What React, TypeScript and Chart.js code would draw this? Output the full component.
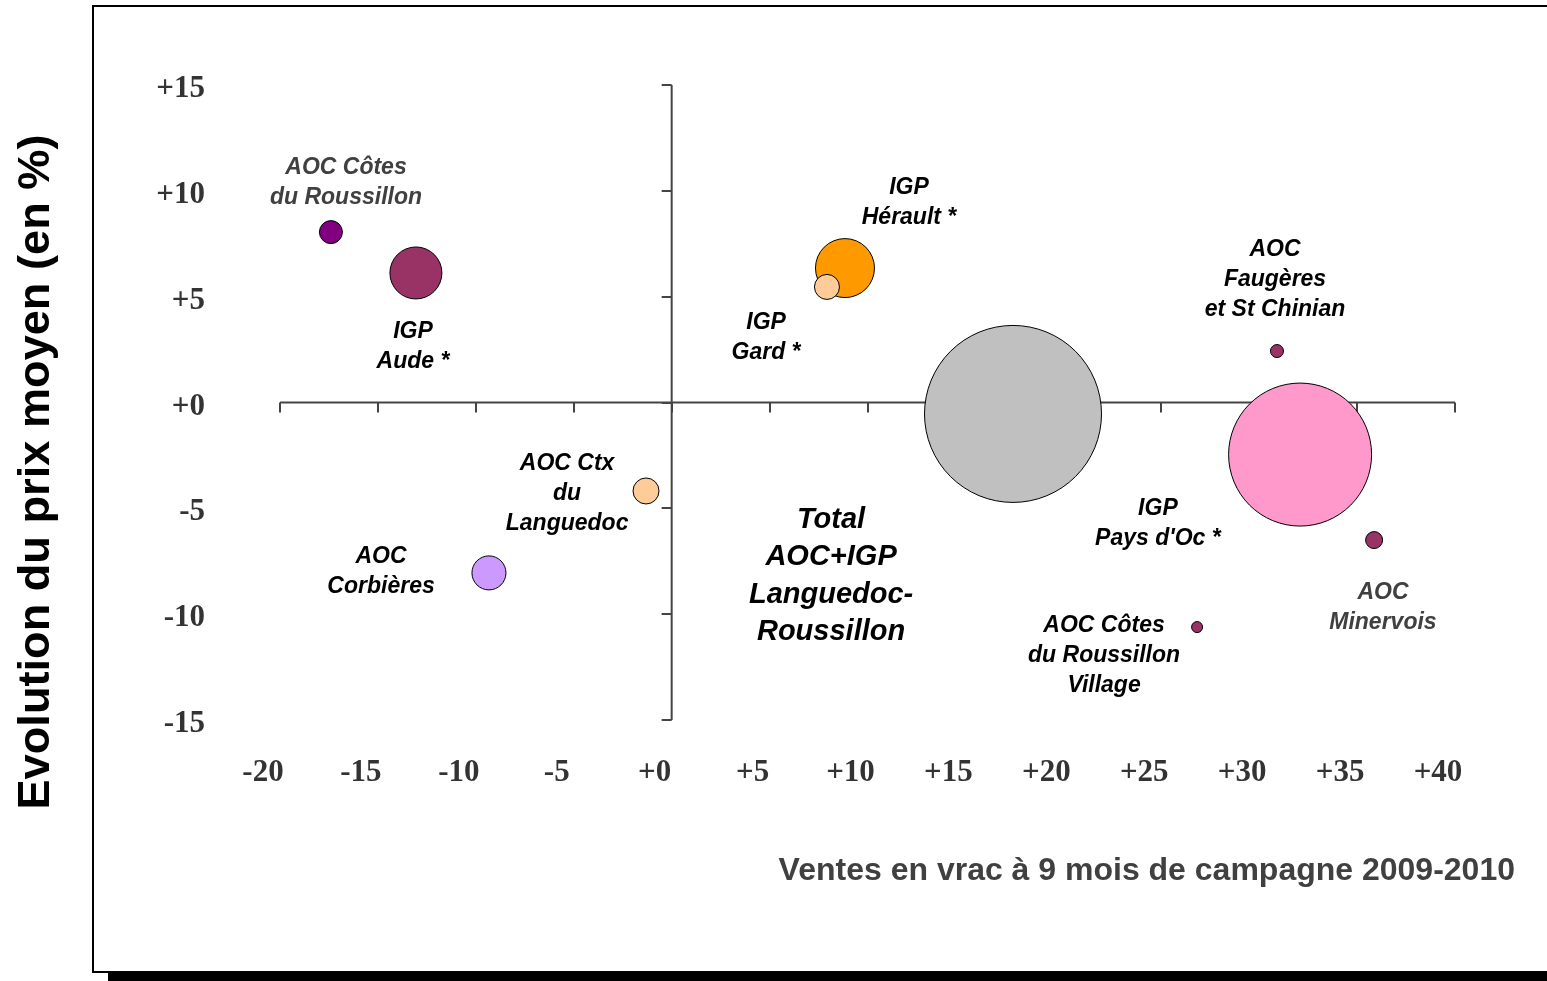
import React, { useEffect, useRef } from 'react';
import { Chart, registerables } from 'chart.js';

Chart.register(...registerables);

// ---- Data ----
const names = [
  'AOC Côtes du Roussillon',
  'IGP Aude',
  'IGP Hérault',
  'IGP Gard',
  'AOC Ctx du Languedoc',
  'AOC Corbières',
  'Total AOC+IGP Languedoc-Roussillon',
  'AOC Faugères et St Chinian',
  "IGP Pays d'Oc",
  'AOC Minervois',
  'AOC Côtes du Roussillon Village',
];
const salesChange = [-17.4, -13.06, 8.85, 7.93, -1.31, -9.33, 17.43, 30.91, 32.09, 35.87, 26.83];
const priceChange = [8.05, 6.12, 6.35, 5.46, -4.18, -8.05, -0.54, 2.43, -2.46, -6.5, -10.61];
const bubbleSize = [11.5, 26, 29.5, 12.5, 13, 17, 88.5, 6.5, 71.5, 8.5, 5.5];
const colors = ['#800080', '#993366', '#FF9900', '#FFCC99', '#FFCC99', '#CC99FF', '#C0C0C0', '#993366', '#FF99CC', '#993366', '#993366'];

const xTickValues = [-20, -15, -10, -5, 0, 5, 10, 15, 20, 25, 30, 35, 40];
const yTickValues = [-15, -10, -5, 0, 5, 10, 15];

// ---- Annotations (label text & anchor in data units) ----
const labelLines = [
  ['AOC Côtes', 'du Roussillon'],
  ['IGP', 'Aude *'],
  ['IGP', 'Hérault *'],
  ['IGP', 'Gard *'],
  ['AOC Ctx', 'du', 'Languedoc'],
  ['AOC', 'Corbières'],
  ['Total', 'AOC+IGP', 'Languedoc-', 'Roussillon'],
  ['AOC', 'Faugères', 'et St Chinian'],
  ['IGP', "Pays d'Oc *"],
  ['AOC', 'Minervois'],
  ['AOC Côtes', 'du Roussillon', 'Village'],
];
const labelX = [-16.63, -13.21, 12.12, 4.82, -5.34, -14.84, 8.14, 30.81, 24.83, 36.32, 22.08];
const labelY = [10.37, 2.63, 9.43, 3.05, -4.32, -8.0, -8.19, 5.82, -5.74, -9.7, -11.97];
const labelGray = [true, false, false, false, false, false, false, false, false, true, false];
const labelBig = [false, false, false, false, false, false, true, false, false, false, false];

const yTitle = 'Evolution du prix moyen (en %)';
const xTitle = 'Ventes en vrac à 9 mois de campagne 2009-2010';

const fmt = (v: number) => (v >= 0 ? '+' + v : String(v));

const PLOT_TOP = 85;
const PLOT_RIGHT = 1455;

const decorPlugin = {
  id: 'decor',
  afterLayout(chart: any) {
    // pin the plot area (bubble auto-padding would otherwise push it down)
    const ca = chart.chartArea;
    const xs = chart.scales.x;
    const ys = chart.scales.y;
    ca.top = PLOT_TOP;
    ca.right = PLOT_RIGHT;
    ca.height = ca.bottom - ca.top;
    ca.width = ca.right - ca.left;
    ys.top = PLOT_TOP;
    ys.height = ys.bottom - ys.top;
    ys.configure();
    xs.right = PLOT_RIGHT;
    xs.width = xs.right - xs.left;
    xs.configure();
  },
  beforeDraw(chart: any) {
    const ctx = chart.ctx;
    const W = chart.width;
    ctx.save();
    ctx.fillStyle = '#ffffff';
    ctx.fillRect(0, 0, W, chart.height);
    // frame
    ctx.strokeStyle = '#000';
    ctx.lineWidth = 2;
    ctx.beginPath();
    ctx.moveTo(W, 6);
    ctx.lineTo(93, 6);
    ctx.lineTo(93, 972);
    ctx.lineTo(W, 972);
    ctx.stroke();
    // shadow
    ctx.fillStyle = '#000';
    ctx.fillRect(108, 971, W - 108, 10);

    // y title
    ctx.font = 'bold 44px "Liberation Sans", Arial, sans-serif';
    ctx.fillStyle = '#000';
    const w = ctx.measureText(yTitle).width;
    ctx.save();
    ctx.translate(37, 472);
    ctx.rotate(-Math.PI / 2);
    ctx.scale(675 / w, 1);
    ctx.textAlign = 'center';
    ctx.textBaseline = 'middle';
    ctx.fillText(yTitle, 0, 0);
    ctx.restore();

    // x title
    ctx.font = 'bold 32px "Liberation Sans", Arial, sans-serif';
    ctx.fillStyle = '#404040';
    ctx.textAlign = 'right';
    ctx.textBaseline = 'middle';
    ctx.fillText(xTitle, 1515, 871);
    ctx.restore();
  },
  beforeDatasetsDraw(chart: any) {
    const ctx = chart.ctx;
    const xs = chart.scales.x;
    const ys = chart.scales.y;
    const y0 = ys.getPixelForValue(0);
    const x0 = xs.getPixelForValue(0);
    ctx.save();
    ctx.strokeStyle = '#444';
    ctx.lineWidth = 2;
    ctx.lineCap = 'butt';
    ctx.beginPath();
    ctx.moveTo(xs.getPixelForValue(-20), y0);
    ctx.lineTo(xs.getPixelForValue(40), y0);
    xTickValues.forEach((v) => {
      const px = Math.round(xs.getPixelForValue(v));
      ctx.moveTo(px, y0);
      ctx.lineTo(px, y0 + 10);
    });
    ctx.moveTo(x0, ys.getPixelForValue(15));
    ctx.lineTo(x0, ys.getPixelForValue(-15));
    yTickValues.forEach((v) => {
      const py = Math.round(ys.getPixelForValue(v));
      ctx.moveTo(x0, py);
      ctx.lineTo(x0 - 10, py);
    });
    ctx.stroke();
    ctx.restore();
  },
  afterDatasetsDraw(chart: any) {
    const ctx = chart.ctx;
    const xs = chart.scales.x;
    const ys = chart.scales.y;
    ctx.save();
    ctx.textAlign = 'center';
    ctx.textBaseline = 'middle';
    labelLines.forEach((lines, i) => {
      const big = labelBig[i];
      const size = big ? 29 : 23;
      const lh = big ? 37.5 : 30;
      ctx.font = `italic bold ${size}px "Liberation Sans", Arial, sans-serif`;
      ctx.fillStyle = labelGray[i] ? '#404040' : '#000';
      const cx = xs.getPixelForValue(labelX[i]);
      const cy = ys.getPixelForValue(labelY[i]);
      const startY = cy - ((lines.length - 1) * lh) / 2;
      lines.forEach((t, j) => ctx.fillText(t, cx, startY + j * lh));
    });
    ctx.restore();
  },
};

export default function App() {
  const ref = useRef<HTMLCanvasElement | null>(null);
  useEffect(() => {
    document.body.style.margin = '0';
    document.body.style.overflow = 'hidden';
    if (!ref.current) return;
    const tickFont = { family: '"Liberation Serif", "Times New Roman", serif', size: 31, weight: 'bold' as const };
    const chart = new Chart(ref.current, {
      type: 'bubble',
      data: {
        datasets: [
          {
            label: 'Appellations',
            data: names.map((_, i) => ({ x: salesChange[i], y: priceChange[i], r: bubbleSize[i] })),
            backgroundColor: colors,
            borderColor: '#000',
            borderWidth: 1,
            clip: false as any,
          },
        ],
      },
      options: {
        animation: false,
        responsive: false,
        devicePixelRatio: 1,
        events: [],
        layout: { autoPadding: false, padding: { top: 85, right: 92, left: 0, bottom: 0 } },
        plugins: { legend: { display: false }, tooltip: { enabled: false } },
        scales: {
          x: {
            type: 'linear',
            min: -20,
            max: 40,
            afterBuildTicks: (s: any) => {
              s.ticks = xTickValues.map((v) => ({ value: v }));
            },
            afterFit: (s: any) => {
              s.height = 261;
            },
            ticks: {
              callback: (v: any) => fmt(Number(v)),
              font: tickFont,
              color: '#333',
              padding: 34,
              labelOffset: -17,
              autoSkip: false,
              maxRotation: 0,
            },
            grid: { display: false, drawTicks: false },
            border: { display: false },
          },
          y: {
            type: 'linear',
            min: -15,
            max: 15,
            afterBuildTicks: (s: any) => {
              s.ticks = yTickValues.map((v) => ({ value: v }));
            },
            afterFit: (s: any) => {
              s.width = 280;
            },
            ticks: {
              callback: (v: any) => fmt(Number(v)),
              font: tickFont,
              color: '#333',
              padding: 75,
              labelOffset: 4,
              autoSkip: false,
            },
            grid: { display: false, drawTicks: false },
            border: { display: false },
          },
        },
      },
      plugins: [decorPlugin],
    });
    return () => chart.destroy();
  }, []);
  return (
    <div style={{ position: 'absolute', left: 0, top: 0, width: 1547, height: 981 }}>
      <canvas ref={ref} width={1547} height={981} style={{ width: 1547, height: 981, display: 'block' }} />
    </div>
  );
}
